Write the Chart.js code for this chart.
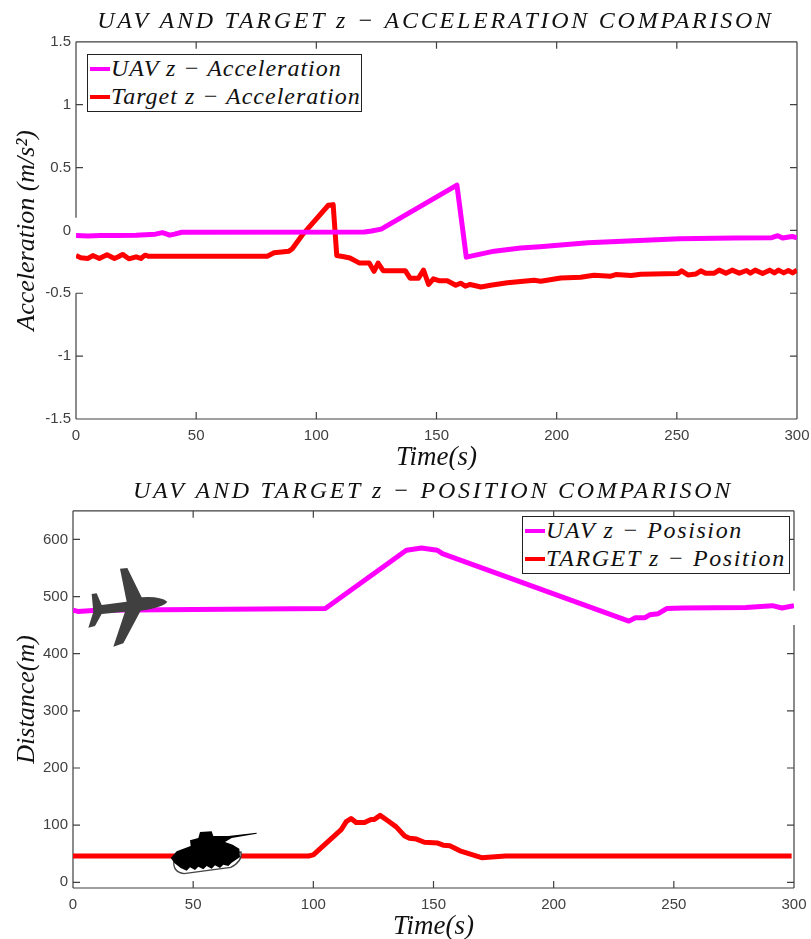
<!DOCTYPE html>
<html lang="en">
<head>
<meta charset="UTF-8">
<title>UAV and target z comparison</title>
<script src="https://cdn.jsdelivr.net/npm/chart.js"></script>
<style>
    * { margin: 0; padding: 0; box-sizing: border-box; }
    body { width: 811px; height: 939px; background: #fff; position: relative; overflow: hidden; }
    canvas { position: absolute; left: 0; }
    #c1 { top: 0; }
    #c2 { top: 470px; }
    .legend {
        position: absolute;
        background: #fff;
        border: 1px solid #222;
        font: italic 24px 'Liberation Serif', serif;
        color: #111;
    }
    .legend div { position: absolute; left: 2px; height: 28px; line-height: 28px; white-space: nowrap; }
    .legend i { display: inline-block; width: 20px; height: 4px; margin-right: 1px; vertical-align: 5px; }
    #leg1 { left: 87px; top: 54px; width: 275px; height: 58px; letter-spacing: 1px; }
    #leg2 { left: 522px; top: 516px; width: 268px; height: 58px; letter-spacing: 1.6px; }
    svg { position: absolute; }
</style>
</head>
<body>
<canvas id="c1" width="811" height="470"></canvas>
<canvas id="c2" width="811" height="469"></canvas>
<div class="legend" id="leg1"></div>
<div class="legend" id="leg2"></div>

<!-- plane icon -->
<svg style="left:70px;top:560px" width="110" height="95" viewBox="0 0 330 285">
    <path fill="#404040" d="M150 26 L172 24 L215 112 Q270 108 292 125 Q280 142 212 152 L160 250 L130 260 L165 155 L95 162 L75 198 L55 203 L70 155 L65 102 L80 100 L95 135 L170 125 Z"/>
</svg>
<!-- tank icon -->
<svg style="left:160px;top:822px" width="105" height="60" viewBox="0 0 315 180">
    <path fill="#fff" stroke="#444" stroke-width="4" d="M42 112 Q36 150 72 155 L212 136 Q248 118 243 90 Z"/>
    <path fill="#000" d="M32 108 L50 88 L92 72 L90 55 L115 48 L120 30 L155 28 L160 42 L205 42 L290 32 L290 35 L215 48 L195 60 L218 68 L238 80 L240 105 L215 122 L205 132 L190 128 L180 138 L165 130 L155 140 L140 132 L130 142 L115 134 L105 144 L90 136 L80 146 L62 138 L44 124 Z"/>
</svg>

<script>
const accelTicksY = [-1.5, -1, -0.5, 0, 0.5, 1, 1.5];
const posTicksY = [0, 100, 200, 300, 400, 500, 600];
const timeTicks = [0, 50, 100, 150, 200, 250, 300];

const uavAccelT = [0, 5, 10, 17, 25, 33, 36, 39, 41, 44, 120, 123, 127, 158.5, 162.4, 174, 185, 193, 213, 232, 251, 274, 289.5, 292, 294, 298, 300];
const uavAccelV = [-0.04, -0.045, -0.04, -0.04, -0.038, -0.03, -0.018, -0.038, -0.03, -0.015, -0.012, -0.005, 0.01, 0.36, -0.213, -0.165, -0.14, -0.13, -0.098, -0.082, -0.066, -0.06, -0.058, -0.042, -0.06, -0.048, -0.06];
const tgtAccelT = [0, 2, 5, 7, 9.7, 12.9, 16, 17.6, 19.4, 22, 25, 27, 28.7, 30, 79.6, 82.4, 88.6, 90, 94, 105, 107, 108.5, 111.5, 114, 118, 122, 124, 125.7, 127.8, 137, 139, 142.5, 144.6, 146.7, 148.7, 151, 154.5, 158, 160, 162, 164, 168.5, 172.5, 179.5, 190.6, 193.4, 201.7, 210, 215.5, 222.5, 224.6, 231, 235, 250.5, 252, 254.6, 258, 260, 262, 265.6, 267.6, 270.4, 273, 276, 279, 280.6, 282.6, 285.7, 288.6, 290.6, 292.3, 294.5, 296.4, 298.2, 300];
const tgtAccelV = [-0.2, -0.218, -0.223, -0.2, -0.223, -0.194, -0.223, -0.21, -0.191, -0.226, -0.21, -0.223, -0.197, -0.205, -0.205, -0.178, -0.165, -0.146, -0.04, 0.2, 0.205, -0.2, -0.21, -0.22, -0.26, -0.26, -0.325, -0.26, -0.32, -0.32, -0.38, -0.38, -0.316, -0.43, -0.385, -0.4, -0.4, -0.436, -0.42, -0.444, -0.43, -0.45, -0.436, -0.417, -0.396, -0.404, -0.378, -0.372, -0.356, -0.364, -0.351, -0.359, -0.348, -0.343, -0.322, -0.354, -0.346, -0.322, -0.34, -0.34, -0.316, -0.34, -0.316, -0.34, -0.319, -0.34, -0.316, -0.343, -0.316, -0.338, -0.316, -0.338, -0.319, -0.338, -0.316];

const uavPosT = [0, 2, 10, 105, 138.7, 145, 151.6, 153.7, 231.3, 234, 238, 240, 243.5, 247, 254, 280, 291, 295, 300];
const uavPosV = [476, 474, 476, 479, 581, 585, 581, 575, 457, 463, 463, 468, 470, 479, 480, 481, 484, 480, 484];
const tgtPosT = [0, 50, 98, 100, 111.6, 113.7, 115.7, 117.8, 121.3, 124, 125.4, 127.8, 131, 134.5, 138, 140, 142.9, 146.2, 151.8, 154, 156.8, 161, 170, 180, 299];
const tgtPosV = [46, 46, 46, 48, 92, 106, 111.6, 104.6, 104.6, 110, 110, 117, 107.6, 97, 81, 77, 75.6, 70, 68.6, 65, 64, 55, 43, 46, 46];

const AXIS = '#404040';
const TICK = 7;

// matlab style box, ticks pointing inward, optional white-out gap on one side
const boxPlugin = {
    id: 'box',
    beforeDatasetsDraw(chart, args, opts) {
        const { ctx, chartArea: a, scales: { x, y } } = chart;
        const gapA = opts.gap ? y.getPixelForValue(opts.gap.from) : 0;
        const gapB = opts.gap ? y.getPixelForValue(opts.gap.to) : 0;
        const vert = (px, side) => {
            if (opts.gap && opts.gap.side === side) {
                ctx.moveTo(px, a.top); ctx.lineTo(px, gapA);
                ctx.moveTo(px, gapB); ctx.lineTo(px, a.bottom);
            } else {
                ctx.moveTo(px, a.top); ctx.lineTo(px, a.bottom);
            }
        };
        ctx.save();
        ctx.strokeStyle = AXIS;
        ctx.lineWidth = 1.2;
        ctx.beginPath();
        ctx.moveTo(a.left, a.top); ctx.lineTo(a.right, a.top);
        ctx.moveTo(a.left, a.bottom); ctx.lineTo(a.right, a.bottom);
        vert(a.left, 'left');
        vert(a.right, 'right');
        x.ticks.forEach(t => {
            const p = x.getPixelForValue(t.value);
            ctx.moveTo(p, a.top); ctx.lineTo(p, a.top + TICK);
            ctx.moveTo(p, a.bottom); ctx.lineTo(p, a.bottom - TICK);
        });
        y.ticks.forEach(t => {
            const p = y.getPixelForValue(t.value);
            const inGap = opts.gap && p > gapA && p < gapB;
            if (!(inGap && opts.gap.side === 'left')) { ctx.moveTo(a.left, p); ctx.lineTo(a.left + TICK, p); }
            if (!(inGap && opts.gap.side === 'right')) { ctx.moveTo(a.right, p); ctx.lineTo(a.right - TICK, p); }
        });
        ctx.stroke();
        ctx.restore();
    }
};

// title sits over the plot area and is spaced out, the title plugin can't do either
const titleSpacing = {
    id: 'titleSpacing',
    afterLayout(chart, args, opts) {
        const block = chart.titleBlock;
        if (block.spaced) return;
        const orig = block.draw;
        block.spaced = true;
        block.draw = function () {
            const ctx = chart.ctx;
            ctx.save();
            ctx.translate(opts.shift, 0);
            ctx.letterSpacing = opts.spacing + 'px';
            orig.call(block);
            ctx.restore();
        };
    }
};

function toPoints(xs, ys) {
    return xs.map((t, i) => ({ x: t, y: ys[i] }));
}

function makeChart(id, cfg) {
    return new Chart(document.getElementById(id), {
        type: 'line',
        data: {
            datasets: cfg.series.map(s => ({
                label: s.label,
                data: toPoints(s.t, s.v),
                borderColor: s.color,
                borderWidth: 5,
                borderJoinStyle: 'round',
                pointRadius: 0,
                tension: 0
            }))
        },
        options: {
            responsive: false,
            animation: false,
            layout: { padding: { right: cfg.rightPad } },
            plugins: {
                legend: { display: false },
                tooltip: { enabled: false },
                title: {
                    display: true,
                    text: cfg.title,
                    color: '#111',
                    font: { family: 'Liberation Serif', style: 'italic', weight: 'normal', size: 24, lineHeight: 1.2 },
                    padding: cfg.titlePad
                },
                titleSpacing: { shift: cfg.titleShift, spacing: 2.75 },
                box: { gap: cfg.gap }
            },
            scales: {
                x: {
                    type: 'linear',
                    min: 0,
                    max: 300,
                    grid: { display: false, drawTicks: false },
                    border: { display: false },
                    afterBuildTicks: s => { s.ticks = timeTicks.map(v => ({ value: v })); },
                    afterFit: s => { s.height = 51; s.paddingLeft = 0; s.paddingRight = 0; },
                    ticks: { color: AXIS, font: { family: 'Liberation Sans', size: 15 }, padding: 8, maxRotation: 0, callback: v => String(v) },
                    title: {
                        display: true,
                        text: 'Time(s)',
                        color: '#111',
                        font: { family: 'Liberation Serif', style: 'italic', size: 27 },
                        padding: { top: 0, bottom: -4 }
                    }
                },
                y: {
                    min: cfg.yMin,
                    max: cfg.yMax,
                    grid: { display: false, drawTicks: false },
                    border: { display: false },
                    afterBuildTicks: s => { s.ticks = cfg.yTicks.map(v => ({ value: v })); },
                    afterFit: s => { s.width = cfg.left; s.paddingTop = 0; s.paddingBottom = 0; },
                    ticks: { color: AXIS, font: { family: 'Liberation Sans', size: 15 }, padding: 5, callback: v => String(v) },
                    title: {
                        display: true,
                        text: cfg.yTitle,
                        color: '#111',
                        font: { family: 'Liberation Serif', style: 'italic', size: 26 },
                        padding: { top: 12, bottom: 0 }
                    }
                }
            }
        },
        plugins: [boxPlugin, titleSpacing]
    });
}

function fillLegend(id, series) {
    const box = document.getElementById(id);
    series.forEach((s, i) => {
        const row = document.createElement('div');
        row.style.top = (i * 28 - 1) + 'px';
        row.innerHTML = '<i style="background:' + s.color + '"></i>' + s.label;
        box.appendChild(row);
    });
}

const accelSeries = [
    { label: 'UAV z \u2212 Acceleration', t: uavAccelT, v: uavAccelV, color: '#ff00ff' },
    { label: 'Target z \u2212 Acceleration', t: tgtAccelT, v: tgtAccelV, color: '#ff0000' }
];
const posSeries = [
    { label: 'UAV z \u2212 Posision', t: uavPosT, v: uavPosV, color: '#ff00ff' },
    { label: 'TARGET z \u2212 Position', t: tgtPosT, v: tgtPosV, color: '#ff0000' }
];

makeChart('c1', {
    series: accelSeries,
    title: 'UAV AND TARGET z \u2212 ACCELERATION COMPARISON',
    titlePad: { top: 7, bottom: 6 },
    titleShift: 37,
    yTitle: 'Acceleration (m/s\u00b2)',
    yMin: -1.5, yMax: 1.5, yTicks: accelTicksY,
    left: 76, rightPad: 14,
    gap: { side: 'left', from: 0.1, to: -0.5 }
});
makeChart('c2', {
    series: posSeries,
    title: 'UAV AND TARGET z \u2212 POSITION COMPARISON',
    titlePad: { top: 7, bottom: 5 },
    titleShift: 36,
    yTitle: 'Distance(m)',
    yMin: -10, yMax: 650, yTicks: posTicksY,
    left: 73, rightPad: 17,
    gap: { side: 'right', from: 510, to: 450 }
});

fillLegend('leg1', accelSeries);
fillLegend('leg2', posSeries);
</script>
</body>
</html>
